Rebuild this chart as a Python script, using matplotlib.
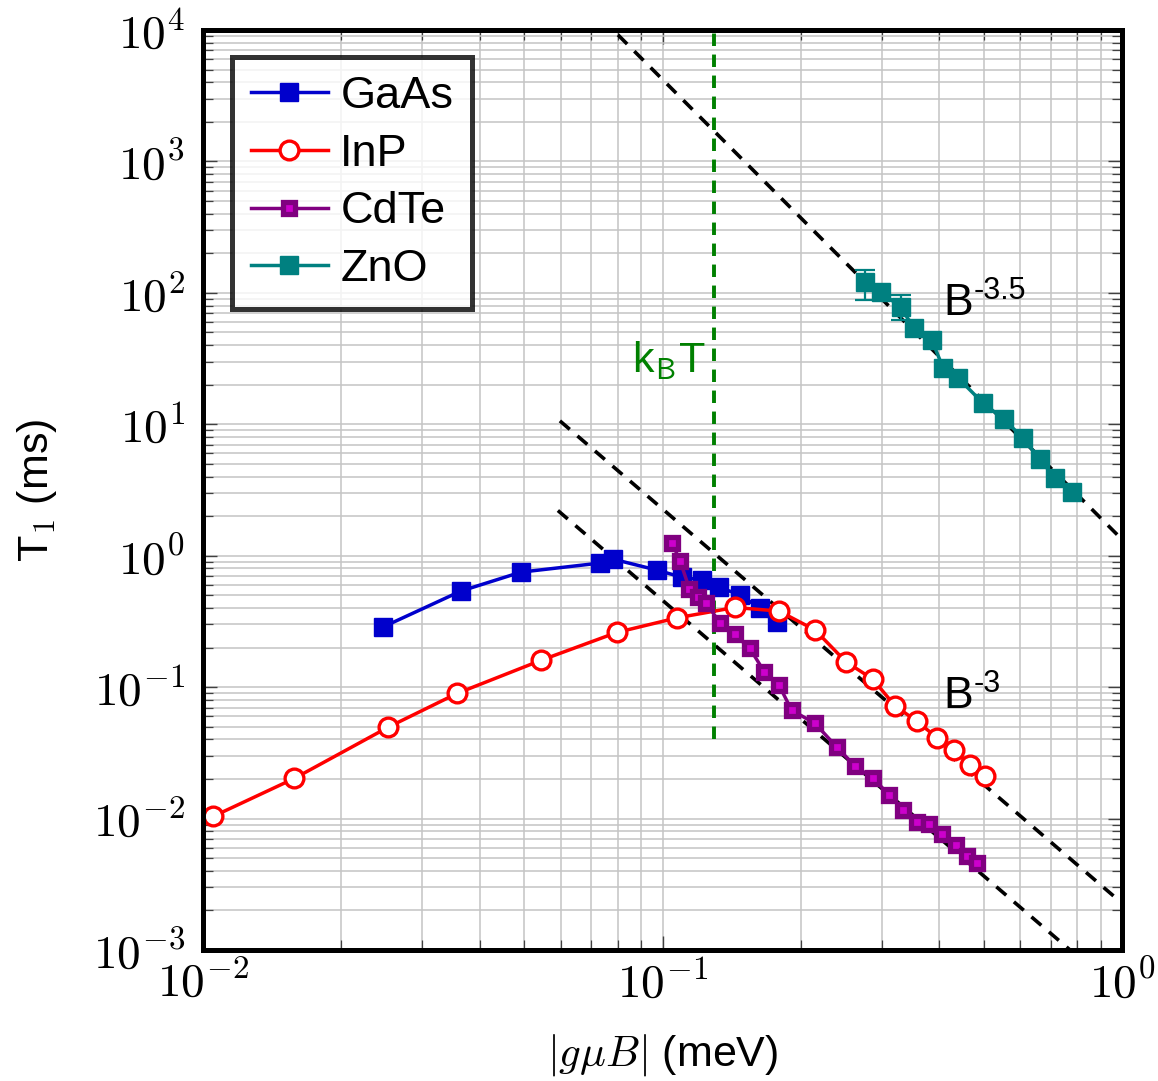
import numpy as np
import matplotlib
matplotlib.use("Agg")
import matplotlib.pyplot as plt
from matplotlib.ticker import LogLocator, NullFormatter, FuncFormatter

plt.rcParams['font.family'] = ['Liberation Sans', 'DejaVu Sans']
plt.rcParams['mathtext.fontset'] = 'cm'

# Spin relaxation time T1 versus Zeeman energy
gaas_x = [0.0246, 0.0364, 0.0492, 0.0731, 0.078, 0.0973, 0.110, 0.122, 0.133, 0.1475, 0.163, 0.1775]
gaas_y = [0.286, 0.538, 0.75, 0.879, 0.942, 0.777, 0.687, 0.652, 0.577, 0.501, 0.399, 0.313]

inp_x = [0.01053, 0.0158, 0.0253, 0.0357, 0.0544, 0.0796, 0.1077, 0.1438, 0.1793, 0.2148,
         0.2507, 0.2868, 0.3206, 0.3574, 0.3963, 0.4315, 0.4669, 0.5031]
inp_y = [0.0104, 0.0202, 0.0496, 0.0895, 0.160, 0.261, 0.337, 0.404, 0.379, 0.272,
         0.156, 0.115, 0.0721, 0.0551, 0.0411, 0.0332, 0.0255, 0.0211]

cdte_x = [0.1050, 0.1092, 0.1144, 0.1192, 0.1244, 0.1337, 0.1435, 0.1550, 0.1667, 0.1793,
          0.1910, 0.2148, 0.2393, 0.2624, 0.2876, 0.3115, 0.3342, 0.3574, 0.3807, 0.4051,
          0.4352, 0.4592, 0.4828]
cdte_y = [1.241, 0.914, 0.562, 0.484, 0.436, 0.305, 0.252, 0.197, 0.130, 0.1035,
          0.0668, 0.0529, 0.0351, 0.0251, 0.0202, 0.0151, 0.0117, 0.00944, 0.00906, 0.0076,
          0.00628, 0.00518, 0.0046]

zno_x = [0.2759, 0.2985, 0.3300, 0.3527, 0.3855, 0.4085, 0.4403, 0.4973, 0.5537, 0.6080,
         0.6631, 0.7148, 0.7772]
zno_y = [121.5, 101.9, 77.6, 53.7, 43.7, 26.6, 22.4, 14.6, 10.9, 7.89, 5.41, 3.88, 3.03]
# error bars on selected ZnO points (index, lower, upper)
zno_err_idx = [0, 2]
zno_err_lo = [33.5, 15.5]
zno_err_hi = [27.5, 18.6]

# power-law guides: (prefactor, exponent, x start, x end)
guides = [(1.33, -3.5, 0.080, 1.0),
          (0.00227, -3.0, 0.0598, 1.0),
          (0.000458, -3.0, 0.0592, 1.0)]
guide_labels = [('-3.5', 0.4077, 67.8), ('-3', 0.4077, 0.0692)]

kbt = 0.1294          # thermal energy k_B T (meV)
kbt_ymin = 0.04

W, H = 1158, 1081
fig = plt.figure(figsize=(W / 100, H / 100), dpi=100)
ax = fig.add_axes([203 / W, 1 - 950 / H, 919 / W, 920 / H])
ax.set_xscale('log')
ax.set_yscale('log')
ax.set_xlim(1e-2, 1e0)
ax.set_ylim(1e-3, 1e4)

# grid
ax.grid(True, which='both', color='#c4c4c4', linewidth=1.1, zorder=0)
ax.set_axisbelow(True)

# guide lines
for c, p, x0, x1 in guides:
    xs = np.array([x0, x1])
    ax.plot(xs, c * xs ** p, color='black', lw=2.6, ls=(0, (3.6, 2.8)), zorder=2)
ax.plot([kbt, kbt], [kbt_ymin, 1e4], color='#008000', lw=2.8, ls=(0, (3.2, 2.2)), zorder=2)

ax.plot(gaas_x, gaas_y, color='#0000cc', lw=2.5, marker='s', ms=12.5,
        mfc='#0000cc', mec='#0000cc', mew=1, label='GaAs', zorder=3)
ax.plot(inp_x, inp_y, color='red', lw=2.5, marker='o', ms=13.5,
        mfc='white', mec='red', mew=2.4, label='InP', zorder=4)
ax.plot(cdte_x, cdte_y, color='#800080', lw=2.5, marker='s', ms=8.0,
        mfc='#cc00cc', mec='#800080', mew=3.8, label='CdTe', zorder=5)
ax.plot(zno_x, zno_y, color='#008080', lw=2.5, marker='s', ms=12.5,
        mfc='#008080', mec='#008080', mew=1, label='ZnO', zorder=6)
ax.errorbar([zno_x[i] for i in zno_err_idx], [zno_y[i] for i in zno_err_idx],
            yerr=[zno_err_lo, zno_err_hi], fmt='none', ecolor='#008080',
            elinewidth=1.6, capsize=7, capthick=1.6, zorder=6)

# ticks
ax.xaxis.set_major_locator(LogLocator(base=10, numticks=10))
ax.yaxis.set_major_locator(LogLocator(base=10, numticks=20))
ax.xaxis.set_minor_locator(LogLocator(base=10, subs=np.arange(2, 10), numticks=20))
ax.yaxis.set_minor_locator(LogLocator(base=10, subs=np.arange(2, 10), numticks=20))
decade_fmt = FuncFormatter(lambda v, pos: r'$10^{%d}$' % int(round(np.log10(v))))
ax.xaxis.set_major_formatter(decade_fmt)
ax.yaxis.set_major_formatter(decade_fmt)
ax.xaxis.set_minor_formatter(NullFormatter())
ax.yaxis.set_minor_formatter(NullFormatter())
ax.tick_params(which='both', direction='in', top=True, right=True, color='#404040')
ax.tick_params(which='major', length=10, width=1.0, labelsize=34)
ax.tick_params(which='minor', length=7, width=0.9)
ax.tick_params(axis='y', which='major', pad=13)
ax.tick_params(axis='x', which='major', pad=8)

for s in ax.spines.values():
    s.set_linewidth(3.6)
    s.set_zorder(10)

ax.set_ylabel(r'T$_\mathsf{1}$ (ms)', fontsize=31, labelpad=24)
ax.set_xlabel(r'$|g\mu B|$ (meV)', fontsize=31, labelpad=18)

leg = ax.legend(loc='upper left', bbox_to_anchor=((232 - 203) / 919, 1 - (57 - 30) / 920),
                borderaxespad=0, fontsize=32.5, frameon=True, fancybox=False,
                edgecolor='black', handlelength=1.7, handletextpad=0.28,
                labelspacing=0.37, borderpad=0.42)
leg.get_frame().set_linewidth(3.6)
leg.set_zorder(20)

# text annotations
ax.text(0.0858, 24.5, r'k$_\mathsf{B}$T', color='#008000', fontsize=31,
        ha='left', va='baseline')

fig.canvas.draw()
renderer = fig.canvas.get_renderer()
for sup, gx, gy in guide_labels:
    base = ax.text(gx, gy, 'B', color='black', fontsize=32, ha='left', va='baseline')
    bb = base.get_window_extent(renderer)
    ax.annotate(sup, xy=(bb.x1 + 1, bb.y1 - 16), xycoords='figure pixels',
                fontsize=22, ha='left', va='baseline', color='black')

fig.savefig('out.png', dpi=100)
